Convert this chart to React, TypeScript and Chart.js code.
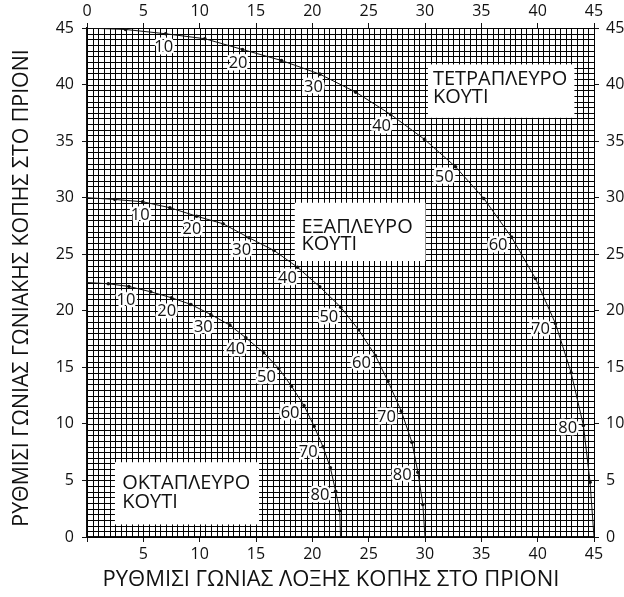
import React, { useEffect, useRef } from 'react';
import { Chart, registerables } from 'chart.js';

Chart.register(...registerables);

// ---- data ----
const slopeAngles = [0, 5, 10, 15, 20, 25, 30, 35, 40, 45, 50, 55, 60, 65, 70, 75, 80, 85, 90];
const labelledAngles = [10, 20, 30, 40, 50, 60, 70, 80];

const tetraBevel = [0, 3.43, 6.98, 10.46, 13.8, 17.26, 20.66, 23.85, 26.95, 29.96, 32.71, 35.22, 37.68, 39.8, 41.58, 42.97, 44.06, 44.65, 45];
const tetraMiter = [45, 44.87, 44.49, 44.05, 43.1, 42.13, 40.92, 39.33, 37.36, 35.15, 32.73, 29.93, 26.51, 22.86, 18.88, 14.52, 9.86, 4.85, 0];

const hexaBevel = [0, 2.48, 4.94, 7.36, 9.73, 12.08, 14.39, 16.6, 18.68, 20.66, 22.52, 24.11, 25.59, 26.71, 27.9, 28.84, 29.37, 29.81, 30];
const hexaMiter = [30, 29.84, 29.64, 29.11, 28.36, 27.69, 26.45, 25.33, 23.85, 22.12, 20.32, 18.32, 16.05, 13.78, 11.12, 8.38, 5.73, 2.87, 0];

const octaBevel = [0, 1.89, 3.72, 5.65, 7.51, 9.22, 10.99, 12.68, 14.1, 15.69, 17.02, 18.15, 19.26, 20.15, 20.95, 21.6, 22.07, 22.43, 22.5];
const octaMiter = [22.5, 22.39, 22.15, 21.68, 21.15, 20.56, 19.67, 18.73, 17.61, 16.29, 14.9, 13.33, 11.63, 9.8, 7.98, 6.12, 4.05, 2.34, 0];

const axisMin = 0;
const axisMax = 45;
const tickStep = 5;
const gridStep = 0.5;

const xTitle = 'ΡΥΘΜΙΣΙ ΓΩΝΙΑΣ ΛΟΞΗΣ ΚΟΠΗΣ ΣΤΟ ΠΡΙΟΝΙ';
const yTitle = 'ΡΥΘΜΙΣΙ ΓΩΝΙΑΣ ΓΩΝΙΑΚΗΣ ΚΟΠΗΣ ΣΤΟ ΠΡΙΟΝΙ';

const tetraName = ['ΤΕΤΡΑΠΛΕΥΡΟ', 'ΚΟΥΤΙ'];
const hexaName = ['ΕΞΑΠΛΕΥΡΟ', 'ΚΟΥΤΙ'];
const octaName = ['ΟΚΤΑΠΛΕΥΡΟ', 'ΚΟΥΤΙ'];

// ---- layout / style config (not data) ----
const FONT = "'Open Sans', 'DejaVu Sans', sans-serif";
const INK = '#111';

const nameBoxes = [
  { lines: tetraName, x1: 30.26, x2: 43.26, yTop: 41.78, yBottom: 37.06, textX: 30.7, baselines: [39.92, 38.39] },
  { lines: hexaName, x1: 18.44, x2: 30.05, yTop: 29.55, yBottom: 24.4, textX: 19.03, baselines: [26.9, 25.36] },
  { lines: octaName, x1: 2.48, x2: 15.27, yTop: 6.61, yBottom: 1.11, textX: 3.13, baselines: [4.2, 2.58] },
];

// title anchor positions in canvas pixels
const xTitlePos = { x: 331, y: 580, size: 22 };
const yTitlePos = { x: 22, y: 288, size: 21.3 };

const gridPlugin = {
  id: 'paperGrid',
  beforeDatasetsDraw(chart: any) {
    const { ctx, chartArea } = chart;
    const xs = chart.scales.x;
    const ys = chart.scales.y;
    ctx.save();
    ctx.strokeStyle = '#000';
    ctx.lineWidth = 1;
    ctx.beginPath();
    for (let v = axisMin; v <= axisMax + 1e-9; v += gridStep) {
      const px = Math.round(xs.getPixelForValue(v)) + 0.5;
      ctx.moveTo(px, chartArea.top);
      ctx.lineTo(px, chartArea.bottom);
      const py = Math.round(ys.getPixelForValue(v)) + 0.5;
      ctx.moveTo(chartArea.left, py);
      ctx.lineTo(chartArea.right, py);
    }
    ctx.stroke();
    ctx.restore();
  },
};

const labelPlugin = {
  id: 'curveLabels',
  afterDatasetsDraw(chart: any) {
    const { ctx } = chart;
    const xs = chart.scales.x;
    const ys = chart.scales.y;
    ctx.save();
    // name boxes
    for (const b of nameBoxes) {
      const l = xs.getPixelForValue(b.x1);
      const r = xs.getPixelForValue(b.x2);
      const t = ys.getPixelForValue(b.yTop);
      const bo = ys.getPixelForValue(b.yBottom);
      ctx.fillStyle = '#fff';
      ctx.fillRect(l, t, r - l, bo - t);
      ctx.fillStyle = INK;
      ctx.font = `20px ${FONT}`;
      ctx.textAlign = 'left';
      ctx.textBaseline = 'alphabetic';
      b.lines.forEach((line, i) => {
        ctx.fillText(line, xs.getPixelForValue(b.textX), ys.getPixelForValue(b.baselines[i]));
      });
    }
    // angle labels on curves
    ctx.font = `16.5px ${FONT}`;
    ctx.textAlign = 'center';
    ctx.textBaseline = 'middle';
    chart.data.datasets.forEach((ds: any, di: number) => {
      const meta = chart.getDatasetMeta(di);
      slopeAngles.forEach((a, i) => {
        if (!labelledAngles.includes(a)) return;
        const p = meta.data[i];
        const p0 = meta.data[i - 1];
        const p1 = meta.data[i + 1];
        let tx = p1.x - p0.x;
        let ty = p1.y - p0.y;
        const len = Math.hypot(tx, ty) || 1;
        tx /= len;
        ty /= len;
        const nx = -ty;
        const ny = tx;
        const cx = p.x + nx * 16;
        const cy = p.y + ny * 13;
        const text = String(a);
        ctx.lineWidth = 5;
        ctx.lineJoin = 'round';
        ctx.strokeStyle = '#fff';
        ctx.strokeText(text, cx, cy + 1);
        ctx.fillStyle = INK;
        ctx.fillText(text, cx, cy + 1);
      });
    });
    // axis titles
    ctx.fillStyle = INK;
    ctx.textAlign = 'center';
    ctx.textBaseline = 'middle';
    ctx.font = `${xTitlePos.size}px ${FONT}`;
    ctx.fillText(xTitle, xTitlePos.x, xTitlePos.y);
    ctx.font = `${yTitlePos.size}px ${FONT}`;
    ctx.translate(yTitlePos.x, yTitlePos.y);
    ctx.rotate(-Math.PI / 2);
    ctx.fillText(yTitle, 0, 0);
    ctx.restore();
  },
};

function curve(xsArr: number[], ysArr: number[]) {
  return xsArr.map((x, i) => ({ x, y: ysArr[i] }));
}

export default function App() {
  const ref = useRef<HTMLCanvasElement | null>(null);
  useEffect(() => {
    if (!ref.current) return;
    const lastIdx = slopeAngles.length - 1;
    const ds = (label: string, bx: number[], my: number[]) => ({
      label,
      data: curve(bx, my),
      borderColor: INK,
      backgroundColor: INK,
      borderWidth: 1,
      pointRadius: (c: any) => (c.dataIndex === 0 || c.dataIndex === lastIdx ? 0 : 1.8),
      pointBorderWidth: 0,
      pointHoverRadius: 0,
      tension: 0,
      fill: false,
    });
    const tickFont = { family: FONT, size: 16 };
    const chart = new Chart(ref.current, {
      type: 'line',
      data: {
        datasets: [
          ds('ΤΕΤΡΑΠΛΕΥΡΟ ΚΟΥΤΙ', tetraBevel, tetraMiter),
          ds('ΕΞΑΠΛΕΥΡΟ ΚΟΥΤΙ', hexaBevel, hexaMiter),
          ds('ΟΚΤΑΠΛΕΥΡΟ ΚΟΥΤΙ', octaBevel, octaMiter),
        ],
      },
      options: {
        animation: false,
        responsive: false,
        events: [],
        layout: { padding: 0 },
        plugins: { legend: { display: false }, tooltip: { enabled: false } },
        scales: {
          x: {
            type: 'linear', position: 'bottom', min: axisMin, max: axisMax,
            ticks: { stepSize: tickStep, font: tickFont, color: INK, padding: 3,
              callback: (v: any) => (Number(v) === 0 ? '' : String(v)) },
            grid: { drawOnChartArea: false, tickLength: 5, color: INK },
            border: { color: INK, width: 1.5 },
            afterFit: (s: any) => { s.height = 60; },
          },
          x2: {
            type: 'linear', position: 'top', min: axisMin, max: axisMax,
            ticks: { stepSize: tickStep, font: tickFont, color: INK, padding: 2 },
            grid: { drawOnChartArea: false, tickLength: 5, color: INK },
            border: { color: INK, width: 1 },
            afterFit: (s: any) => { s.height = 28; },
          },
          y: {
            type: 'linear', position: 'left', min: axisMin, max: axisMax,
            ticks: { stepSize: tickStep, font: tickFont, color: INK, padding: 8 },
            grid: { drawOnChartArea: false, tickLength: 5, color: INK },
            border: { color: INK, width: 1.5 },
            afterFit: (s: any) => { s.width = 87; },
          },
          y2: {
            type: 'linear', position: 'right', min: axisMin, max: axisMax,
            ticks: { stepSize: tickStep, font: tickFont, color: INK, padding: 7 },
            grid: { drawOnChartArea: false, tickLength: 5, color: INK },
            border: { color: INK, width: 1 },
            afterFit: (s: any) => { s.width = 30; },
          },
        },
      } as any,
      plugins: [gridPlugin, labelPlugin],
    });
    return () => chart.destroy();
  }, []);
  return (
    <div style={{ position: 'absolute', left: 0, top: 0, width: 624, height: 597, background: '#fff' }}>
      <canvas ref={ref} width={624} height={597} style={{ display: 'block' }} />
    </div>
  );
}
